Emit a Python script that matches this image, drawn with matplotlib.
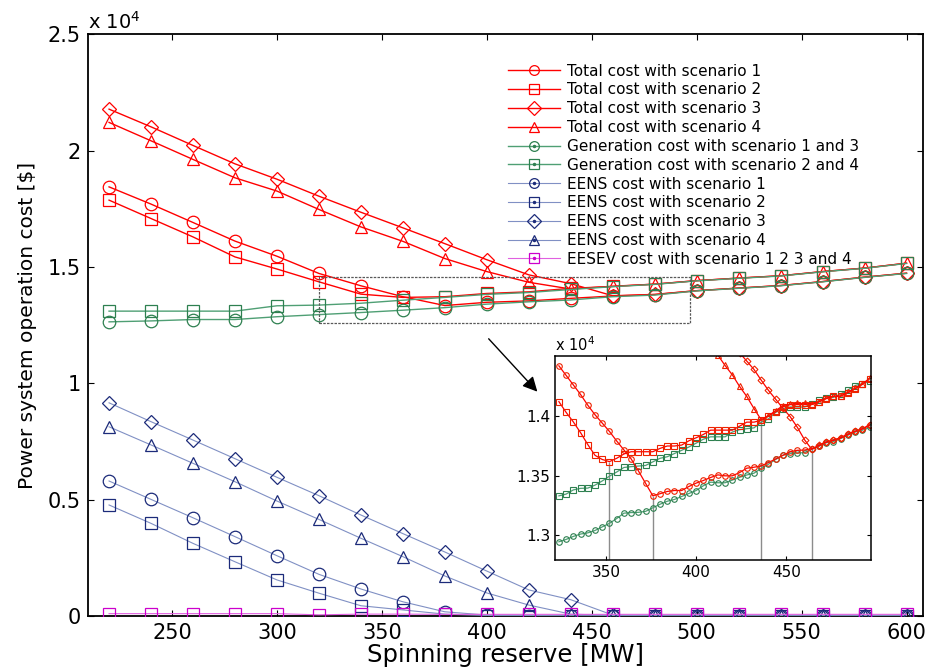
import numpy as np
import matplotlib
matplotlib.use("Agg")
import matplotlib.pyplot as plt
from matplotlib.lines import Line2D
from matplotlib.patches import Rectangle

plt.rcParams['font.family'] = ['DejaVu Sans']
plt.rcParams['mathtext.fontset'] = 'dejavusans'

# main chart data, costs in units of 1e4 $
x_main = [220, 240, 260, 280, 300, 320, 340, 360, 380, 400,
          420, 440, 460, 480, 500, 520, 540, 560, 580, 600]
total1 = [1.844, 1.770, 1.691, 1.611, 1.546, 1.472, 1.419, 1.372, 1.334, 1.348,
          1.354, 1.365, 1.375, 1.381, 1.398, 1.409, 1.420, 1.437, 1.456, 1.473]
total2 = [1.787, 1.708, 1.629, 1.543, 1.491, 1.436, 1.383, 1.369, 1.372, 1.386,
          1.393, 1.408, 1.416, 1.426, 1.441, 1.452, 1.462, 1.480, 1.495, 1.516]
total3 = [2.178, 2.102, 2.022, 1.943, 1.877, 1.804, 1.735, 1.668, 1.600, 1.531,
          1.466, 1.428, 1.376, 1.382, 1.398, 1.409, 1.420, 1.437, 1.456, 1.473]
total4 = [2.121, 2.042, 1.962, 1.883, 1.826, 1.747, 1.672, 1.610, 1.536, 1.480,
          1.434, 1.405, 1.417, 1.426, 1.441, 1.452, 1.462, 1.480, 1.495, 1.516]
gen13 = [1.264, 1.268, 1.274, 1.274, 1.286, 1.295, 1.304, 1.314, 1.325, 1.340,
         1.350, 1.358, 1.372, 1.379, 1.397, 1.408, 1.419, 1.436, 1.455, 1.472]
gen24 = [1.310, 1.310, 1.310, 1.310, 1.333, 1.336, 1.344, 1.357, 1.369, 1.382,
         1.390, 1.403, 1.415, 1.425, 1.440, 1.451, 1.461, 1.479, 1.494, 1.515]
eens1 = [0.580, 0.501, 0.422, 0.341, 0.259, 0.179, 0.116, 0.061, 0.018, 0.004,
         0.002, 0.001, 0.0, 0.0, 0.0, 0.0, 0.0, 0.0, 0.0, 0.0]
eens2 = [0.477, 0.398, 0.312, 0.233, 0.155, 0.098, 0.044, 0.026, 0.008, 0.002,
         0.001, 0.0, 0.0, 0.0, 0.0, 0.0, 0.0, 0.0, 0.0, 0.0]
eens3 = [0.916, 0.835, 0.756, 0.676, 0.596, 0.517, 0.434, 0.354, 0.275, 0.193,
         0.112, 0.070, 0.004, 0.0, 0.0, 0.0, 0.0, 0.0, 0.0, 0.0]
eens4 = [0.813, 0.735, 0.656, 0.577, 0.494, 0.415, 0.334, 0.255, 0.172, 0.099,
         0.047, 0.008, 0.002, 0.0, 0.0, 0.0, 0.0, 0.0, 0.0, 0.0]
eesev = [0.010, 0.010, 0.010, 0.010, 0.010, 0.005, 0.008, 0.008, 0.007, 0.007,
         0.007, 0.007, 0.007, 0.007, 0.007, 0.007, 0.007, 0.007, 0.007, 0.007]

# zoomed data (inset), step 4 MW
x_in = np.arange(324, 500, 4)
in_gen13 = [1.2945, 1.2965, 1.2990, 1.3010, 1.3020, 1.3040, 1.3070, 1.3100, 1.3140, 1.3185,
            1.3190, 1.3192, 1.3200, 1.3230, 1.3260, 1.3285, 1.3300, 1.3325, 1.3350, 1.3375,
            1.3415, 1.3445, 1.3440, 1.3440, 1.3462, 1.3485, 1.3505, 1.3520, 1.3560, 1.3595,
            1.3635, 1.3670, 1.3685, 1.3690, 1.3692, 1.3720, 1.3745, 1.3775, 1.3785, 1.3810,
            1.3838, 1.3865, 1.3880, 1.3905]
in_gen24 = [1.3330, 1.3345, 1.3380, 1.3393, 1.3395, 1.3420, 1.3455, 1.3495, 1.3530, 1.3568,
            1.3575, 1.3580, 1.3585, 1.3615, 1.3645, 1.3658, 1.3685, 1.3712, 1.3740, 1.3772,
            1.3805, 1.3825, 1.3825, 1.3825, 1.3865, 1.3885, 1.3893, 1.3900, 1.3948, 1.3975,
            1.4030, 1.4060, 1.4075, 1.4075, 1.4075, 1.4100, 1.4130, 1.4152, 1.4155, 1.4185,
            1.4218, 1.4255, 1.4270, 1.4290]
in_total1 = [1.4420, 1.4340, 1.4260, 1.4180, 1.4090, 1.4010, 1.3940, 1.3870, 1.3790, 1.3715,
             1.3640, 1.3540, 1.3435, 1.3331, 1.3348, 1.3367, 1.3375, 1.3375, 1.3409, 1.3437,
             1.3459, 1.3484, 1.3506, 1.3498, 1.3498, 1.3525, 1.3562, 1.3570, 1.3581, 1.3609,
             1.3640, 1.3670, 1.3700, 1.3712, 1.3714, 1.3725, 1.3750, 1.3780, 1.3795, 1.3815,
             1.3845, 1.3870, 1.3890, 1.3920]
in_total2 = [1.4120, 1.4030, 1.3950, 1.3860, 1.3760, 1.3670, 1.3635, 1.3617, 1.3645, 1.3681,
             1.3700, 1.3700, 1.3700, 1.3700, 1.3728, 1.3748, 1.3748, 1.3756, 1.3792, 1.3817,
             1.3845, 1.3881, 1.3881, 1.3881, 1.3881, 1.3914, 1.3948, 1.3948, 1.3964, 1.3998,
             1.4034, 1.4075, 1.4095, 1.4095, 1.4095, 1.4095, 1.4117, 1.4145, 1.4164, 1.4164,
             1.4195, 1.4228, 1.4264, 1.4312]
in_total3 = [1.4700, 1.4610, 1.4530, 1.4460, 1.4390, 1.4300, 1.4215, 1.4140, 1.4065, 1.3995,
             1.3905, 1.3800, 1.3720, 1.3755, 1.3782, 1.3798, 1.3818, 1.3848, 1.3872, 1.3893,
             1.3925]
in_total4 = [1.4600, 1.4510, 1.4423, 1.4345, 1.4248, 1.4164, 1.4062, 1.3968, 1.4000, 1.4045,
             1.4085, 1.4100, 1.4105, 1.4105, 1.4103, 1.4120, 1.4148, 1.4166, 1.4168, 1.4198,
             1.4232, 1.4268, 1.4315]
opt_x = [352, 376, 436, 464]
opt_y = [1.3617, 1.3331, 1.3968, 1.3720]

labels = ['Total cost with scenario 1', 'Total cost with scenario 2',
          'Total cost with scenario 3', 'Total cost with scenario 4',
          'Generation cost with scenario 1 and 3', 'Generation cost with scenario 2 and 4',
          'EENS cost with scenario 1', 'EENS cost with scenario 2',
          'EENS cost with scenario 3', 'EENS cost with scenario 4',
          'EESEV cost with scenario 1 2 3 and 4']

red = '#ff0000'
green_l, green_m = '#4f9f74', '#2e8050'
blue_l, blue_m = '#8090c4', '#1c2b7a'
mag_l, mag_m = '#e060e0', '#cc00cc'

series = [
    (total1, 'o', red, red, 9, 1.0),
    (total2, 's', red, red, 8.5, 1.0),
    (total3, 'D', red, red, 7, 1.0),
    (total4, '^', red, red, 9, 1.0),
    (gen13, 'o', green_l, green_m, 9, 1.0),
    (gen24, 's', green_l, green_m, 8.5, 1.0),
    (eens1, 'o', blue_l, blue_m, 9, 0.8),
    (eens2, 's', blue_l, blue_m, 8.5, 0.8),
    (eens3, 'D', blue_l, blue_m, 7, 0.8),
    (eens4, '^', blue_l, blue_m, 9, 0.8),
    (eesev, 's', mag_l, mag_m, 8.5, 0.8),
]

fig = plt.figure(figsize=(9.27, 6.71), dpi=100)
ax = fig.add_axes([0.095, 0.082, 0.901, 0.867])

handles = []
for k, (y, m, lc, mc, ms, lw) in enumerate(series):
    ax.plot(x_main, y, color=lc, lw=lw, marker=m, ms=ms, mfc='none',
            mec=mc, mew=0.9, zorder=3)
    h = Line2D([], [], color=lc, lw=lw, marker=m, ms=7, mfc='none', mec=mc, mew=0.9)
    if k >= 4:
        dot = Line2D([], [], ls='none', marker='.', ms=3, color=mc)
        handles.append((h, dot))
    else:
        handles.append(h)

ax.set_xlim(210, 608)
ax.set_ylim(0, 2.5)
ax.set_xticks([250, 300, 350, 400, 450, 500, 550, 600])
ax.set_yticks([0, 0.5, 1, 1.5, 2, 2.5])
ax.set_yticklabels(['0', '0.5', '1', '1.5', '2', '2.5'])
ax.tick_params(direction='in', top=True, right=True, labelsize=15, length=4, pad=5)
ax.set_xlabel('Spinning reserve [MW]', fontsize=17.5, labelpad=0)
ax.set_ylabel('Power system operation cost [$]', fontsize=14.5, labelpad=8)
ax.text(0.0, 1.003, r'x 10$^4$', transform=ax.transAxes, fontsize=14,
        ha='left', va='bottom')
for s in ax.spines.values():
    s.set_linewidth(1.3)

leg = fig.legend(handles, labels, loc='upper left', bbox_to_anchor=(500 / 927, 1 - 56 / 671),
                 fontsize=11, handlelength=3.4, handletextpad=0.5, labelspacing=0.25,
                 borderpad=0, frameon=False)

# zoom box and arrow
ax.add_patch(Rectangle((320, 1.26), 177, 0.197, fill=False, ec='0.35', lw=0.9,
                       ls=(0, (2, 1)), zorder=4))
ax.annotate('', xy=(425, 0.955), xytext=(400, 1.2),
            arrowprops=dict(arrowstyle='-|>', color='k', lw=1.0, mutation_scale=22))

# inset
axi = fig.add_axes([0.599, 0.165, 0.341, 0.304])
axi.vlines(opt_x, 1.279, opt_y, color='0.55', lw=1.0, zorder=1)
axi.plot(x_in, in_gen13, color=green_l, lw=0.9, marker='o', ms=4, mfc='none', mec=green_m, mew=0.8)
axi.plot(x_in, in_gen24, color=green_l, lw=0.9, marker='s', ms=4, mfc='none', mec=green_m, mew=0.8)
axi.plot(x_in, in_total1, color=red, lw=0.9, marker='o', ms=4, mfc='none', mec='#ee2200', mew=0.8)
axi.plot(x_in, in_total2, color=red, lw=0.9, marker='s', ms=4, mfc='none', mec='#ee2200', mew=0.8)
axi.plot(x_in[23:], in_total3, color=red, lw=0.9, marker='D', ms=3.5, mfc='none', mec='#ee2200', mew=0.8)
axi.plot(x_in[21:], in_total4, color=red, lw=0.9, marker='^', ms=4, mfc='none', mec='#ee2200', mew=0.8)
axi.set_xlim(322, 497)
axi.set_ylim(1.279, 1.45)
axi.set_xticks([350, 400, 450])
axi.set_yticks([1.3, 1.35, 1.4])
axi.set_yticklabels(['1.3', '1.35', '1.4'])
axi.tick_params(direction='in', top=True, right=True, labelsize=11, length=3)
axi.text(0.0, 1.01, r'x 10$^4$', transform=axi.transAxes, fontsize=10.5,
         ha='left', va='bottom')
for s in axi.spines.values():
    s.set_linewidth(1.1)

fig.savefig('out.png', dpi=100)
